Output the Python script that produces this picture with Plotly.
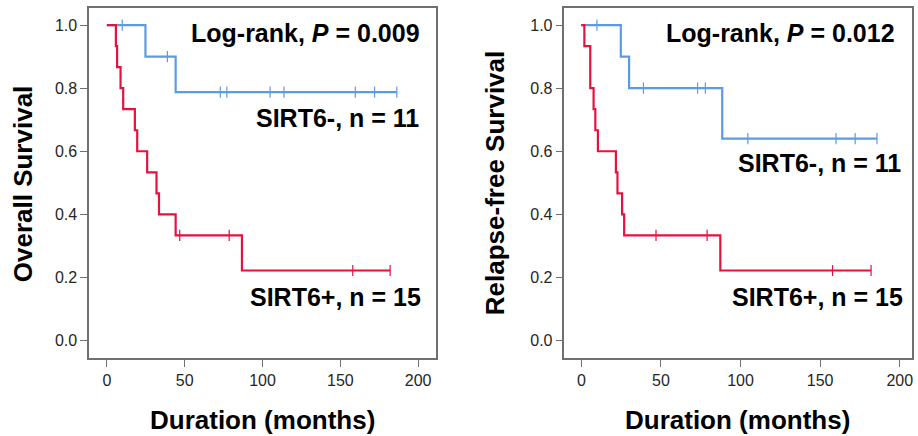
import plotly.graph_objects as go

# ---------------- data (months) ----------------
# Overall survival
os_neg_event = [24.8, 44.2]
os_neg_censor = [9.9, 38.9, 72.9, 77.1, 104.9, 113.8, 159.6, 172.0, 186.3]
os_pos_event = [5.8, 6.6, 8.8, 10.5, 18.0, 19.5, 25.9, 31.9, 33.5, 44.2, 86.8]
os_pos_censor = [46.8, 78.6, 158.0, 182.0]
# Relapse-free survival
rfs_neg_event = [24.8, 30.0, 88.5]
rfs_neg_censor = [9.8, 39.0, 73.0, 77.9, 104.6, 160.0, 172.0, 185.7]
rfs_pos_event = [1.9, 5.6, 5.6, 7.7, 8.8, 10.4, 21.7, 22.7, 25.6, 26.9, 87.3]
rfs_pos_censor = [46.9, 79.0, 157.8, 182.0]

x_ticks = [0, 50, 100, 150, 200]
y_ticks = [0.0, 0.2, 0.4, 0.6, 0.8, 1.0]
p_values = ["0.009", "0.012"]
group_labels = ["SIRT6-, n = 11", "SIRT6+, n = 15"]
y_titles = ["Overall Survival", "Relapse-free Survival"]
x_title = "Duration (months)"

BLUE = "#5B9BE6"
RED = "#E2133D"
FONT = "Liberation Sans, Arial, sans-serif"


def km(events, censors):
    recs = sorted([(t, 1) for t in events] + [(t, 0) for t in censors])
    n = len(recs)
    s = 1.0
    xs, ys = [0.0], [1.0]
    cx, cy = [], []
    i = 0
    while i < len(recs):
        t = recs[i][0]
        d = sum(1 for r in recs if r[0] == t and r[1] == 1)
        c = sum(1 for r in recs if r[0] == t and r[1] == 0)
        if d:
            s = s * (n - d) / n
            xs.append(t)
            ys.append(s)
        if c:
            cx.extend([t] * c)
            cy.extend([s] * c)
        n -= d + c
        i += d + c
    last = recs[-1][0]
    if xs[-1] != last:
        xs.append(last)
        ys.append(s)
    return xs, ys, cx, cy


fig = go.Figure()

panels = [
    ("x", "y", os_neg_event, os_neg_censor, os_pos_event, os_pos_censor),
    ("x2", "y2", rfs_neg_event, rfs_neg_censor, rfs_pos_event, rfs_pos_censor),
]
for xa, ya, ne, nc, pe, pc in panels:
    for ev, ce, col in [(ne, nc, BLUE), (pe, pc, RED)]:
        xs, ys, cx, cy = km(ev, ce)
        fig.add_trace(go.Scatter(x=xs, y=ys, mode="lines", line=dict(color=col, width=2.2, shape="hv"),
                                 xaxis=xa, yaxis=ya, showlegend=False, hoverinfo="skip"))
        fig.add_trace(go.Scatter(x=cx, y=cy, mode="markers",
                                 marker=dict(symbol="line-ns", size=8, line=dict(color=col, width=1.2)),
                                 xaxis=xa, yaxis=ya, showlegend=False, hoverinfo="skip"))

W, H = 918, 436
L1, R1 = 89.3, 437.0
L2, R2 = 565.7, 913.5
TOP, BOT = 8.3, 358.3

axis_common = dict(showline=True, linecolor="#707070", linewidth=1.5, mirror=True, showgrid=False,
                   zeroline=False, ticks="outside", ticklen=7, tickwidth=1.2, tickcolor="#707070",
                   tickfont=dict(family=FONT, size=16, color="#262626"))

fig.update_layout(
    width=W, height=H, margin=dict(l=0, r=0, t=0, b=0),
    paper_bgcolor="white", plot_bgcolor="white",
    xaxis=dict(domain=[L1 / W, R1 / W], range=[-11.4, 211.5], tickvals=x_ticks, anchor="y", **axis_common),
    yaxis=dict(domain=[(H - BOT) / H, (H - TOP) / H], range=[-0.056, 1.053], tickvals=y_ticks,
               tickformat=".1f", anchor="x", **axis_common),
    xaxis2=dict(domain=[L2 / W, R2 / W], range=[-10.6, 207.4], tickvals=x_ticks, anchor="y2", **axis_common),
    yaxis2=dict(domain=[(H - BOT) / H, (H - TOP) / H], range=[-0.056, 1.053], tickvals=y_ticks,
                tickformat=".1f", anchor="x2", **axis_common),
)

ann_font = dict(family=FONT, size=25, color="black")
title_font = dict(family=FONT, size=26, color="black")


def px_x(px):
    return px / W


def px_y(py):
    return (H - py) / H


annotations = []
# panel texts: (right edge px, center y px, text)
texts = [
    (423, 33, "<b>Log-rank, <i>P</i> = " + p_values[0] + "</b>"),
    (422, 118, "<b>" + group_labels[0] + "</b>"),
    (424, 297, "<b>" + group_labels[1] + "</b>"),
    (899, 33, "<b>Log-rank, <i>P</i> = " + p_values[1] + "</b>"),
    (905, 163, "<b>" + group_labels[0] + "</b>"),
    (907, 297, "<b>" + group_labels[1] + "</b>"),
]
for rx, cy, t in texts:
    annotations.append(dict(x=px_x(rx), y=px_y(cy), xref="paper", yref="paper", text=t, showarrow=False,
                            xanchor="right", yanchor="middle", font=ann_font))
# axis titles
for cx in [(L1 + R1) / 2, (L2 + R2) / 2]:
    annotations.append(dict(x=px_x(cx), y=px_y(420), xref="paper", yref="paper", text="<b>" + x_title + "</b>",
                            showarrow=False, xanchor="center", yanchor="middle", font=title_font))
for cx, t in [(23, y_titles[0]), (496, y_titles[1])]:
    annotations.append(dict(x=px_x(cx), y=px_y((TOP + BOT) / 2), xref="paper", yref="paper", text="<b>" + t + "</b>",
                            showarrow=False, xanchor="center", yanchor="middle", textangle=-90, font=title_font))
fig.update_layout(annotations=annotations)

fig.write_html("out.html", config={"displayModeBar": False},
               post_script="document.body.style.margin='0';document.body.style.overflow='hidden';")
